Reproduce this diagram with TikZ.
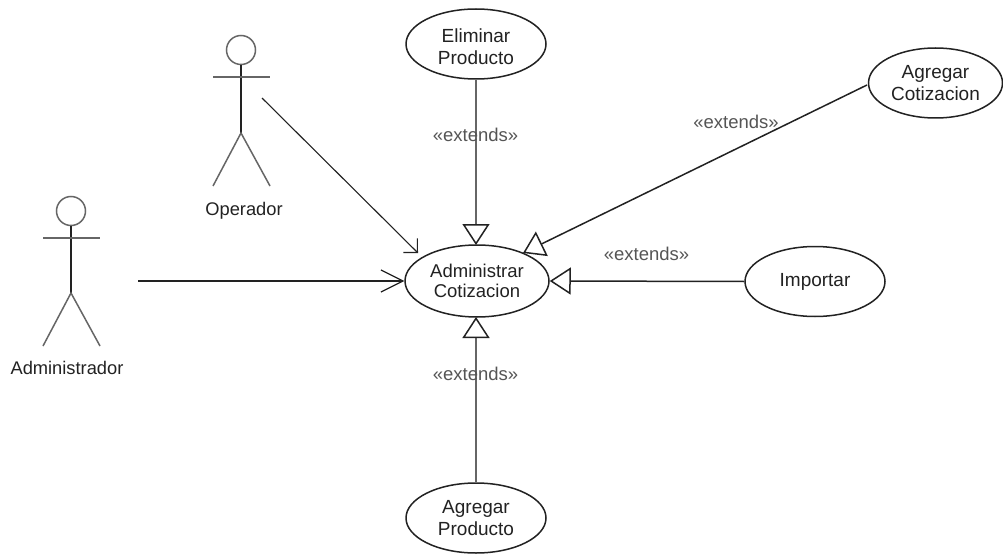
\documentclass[tikz,border=0pt]{standalone}
\usepackage{fontspec}
\setmainfont{Liberation Sans}
\usetikzlibrary{arrows.meta,shapes.geometric}
\definecolor{ink}{HTML}{222222}
\definecolor{soft}{HTML}{555555}
\definecolor{mid}{HTML}{666666}
\tikzset{
  usecase/.style={ellipse,draw=ink,line width=1.5pt,fill=white,minimum width=#1,minimum height=70pt,inner sep=0pt,align=center,font=\fontsize{19}{22}\selectfont,text=ink},
  usetext/.style={inner sep=0pt,align=center,font=\fontsize{19}{22}\selectfont,text=ink},
  head/.style={circle,draw=mid,line width=1.5pt,minimum size=29pt,inner sep=0pt},
  limb/.style={draw=ink,line width=1.5pt},
  assocA/.style={draw=ink,line width=1.2pt,-{Straight Barb[length=22pt,width=22pt,line width=1.2pt]}},
  assocB/.style={draw=ink,line width=1.1pt,-{Straight Barb[length=10pt,width=20pt,line width=1.1pt]}},
  ext/.style={draw=ink,line width=1.5pt,-{Triangle[open,length=21pt,width=27pt,line width=1.5pt,color=ink]}},
  extsoft/.style={ext,draw=mid,line width=2.6pt,-{Triangle[open,length=21pt,width=27pt,line width=1.5pt,color=ink]}},
  lbl/.style={font=\fontsize{18.5}{20}\selectfont,text=soft,inner sep=0pt},
  actorname/.style={font=\fontsize{18.3}{20}\selectfont,text=ink,inner sep=0pt},
}
\begin{document}
\begin{tikzpicture}[x=1pt,y=-1pt]
\useasboundingbox (0,0) rectangle (1003,556);
\fill[white] (0,0) rectangle (1003,556);
% use cases
\node[usecase={144pt},minimum height=72pt,font=\fontsize{18.5}{20}\selectfont] (admin) at (477,281) {Administrar\\Cotizacion};
\node[usecase={140pt}] (elim) at (476,44) {};
\node[usetext] (elimtext) at (476,47) {Eliminar\\Producto};
\node[usecase={134pt}] (agc) at (935.5,83) {Agregar\\Cotizacion};
\node[usecase={140pt}] (imp) at (815,281.5) {Importar};
\node[usecase={140pt}] (agp) at (476,518) {Agregar\\Producto};
% extends
\coordinate (admtop) at (476,245);
\coordinate (admbot) at (476,317);
\draw[extsoft] (elim.south) -- (admtop);
\draw[extsoft] (agp.north) -- (admbot);
\draw[ext] (imp.west) -- (admin.east);
\coordinate (agcend) at (867,85);
\coordinate (admne) at (523,253);
\draw[ext] (agcend) -- (admne);
% labels
\node[lbl] (l1) at (475.5,135) {«extends»};
\node[lbl] (l2) at (736,122) {«extends»};
\node[lbl] (l3) at (646.5,254) {«extends»};
\node[lbl] (l4) at (475.5,374) {«extends»};
% Operador
\node[head] (h1) at (241,50) {};
\coordinate (b1) at (241,133);
\draw[limb] (h1.south) -- (b1);
\coordinate (s1l) at (213,77);
\coordinate (s1r) at (270,77);
\draw[limb,mid] (s1l) -- (s1r);
\coordinate (f1l) at (213,186);
\coordinate (f1r) at (270,186);
\draw[limb,mid] (f1l) -- (b1) -- (f1r);
\node[actorname] (n1) at (244,211) {Operador};
% Administrador
\node[head] (h2) at (71,211) {};
\coordinate (b2) at (71,293);
\draw[limb] (h2.south) -- (b2);
\coordinate (s2l) at (43,238);
\coordinate (s2r) at (100,238);
\draw[limb,mid] (s2l) -- (s2r);
\coordinate (f2l) at (43,346);
\coordinate (f2r) at (100,346);
\draw[limb,mid] (f2l) -- (b2) -- (f2r);
\node[actorname] (n2) at (67,368) {Administrador};
% associations
\coordinate (o1) at (262,98);
\coordinate (o2) at (418,253);
\draw[assocB] (o1) -- (o2);
\coordinate (a1) at (138,281);
\draw[assocA] (a1) -- (admin.west);
\end{tikzpicture}
\end{document}
